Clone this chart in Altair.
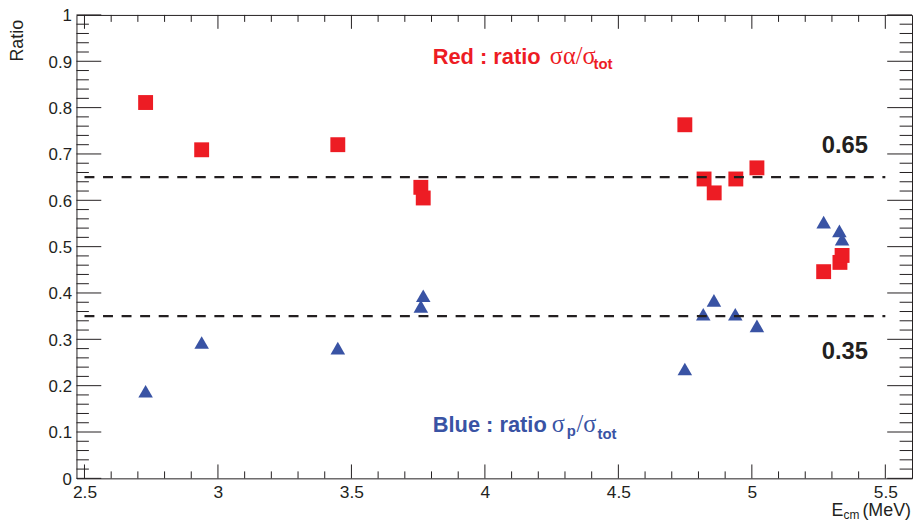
import altair as alt
import pandas as pd

# ---- data ----
red_e = [2.729, 2.939, 3.449, 3.760, 3.769, 4.749, 4.821, 4.859, 4.940, 5.019, 5.269, 5.330, 5.338]
red_ratio = [0.811, 0.709, 0.720, 0.628, 0.605, 0.763, 0.646, 0.616, 0.646, 0.670, 0.446, 0.466, 0.481]
blue_e = [2.729, 2.939, 3.449, 3.769, 3.760, 4.749, 4.818, 4.858, 4.938, 5.019, 5.269, 5.328, 5.338]
blue_ratio = [0.188, 0.293, 0.281, 0.394, 0.371, 0.236, 0.354, 0.384, 0.354, 0.329, 0.553, 0.534, 0.516]

levels = [0.65, 0.35]
level_from = [2.5, 2.5]
level_to = [5.5, 5.5]
level_labels = ["0.65", "0.35"]

x_major = [2.5, 3.0, 3.5, 4.0, 4.5, 5.0, 5.5]
x_minor = [round(2.5 + 0.1 * i, 2) for i in range(31) if i % 5 != 0]
y_major = [round(0.1 * i, 2) for i in range(11)]
y_minor = [round(0.02 * i, 2) for i in range(51) if i % 5 != 0]

red_text = ["Red : ratio ", "σα/σ", "tot"]
blue_text = ["Blue : ratio ", "σ", "p", "/σ", "tot"]
x_title = ["E", "cm", "(MeV)"]
y_title = "Ratio"

RED = "#ED1C24"
BLUE = "#3953A4"
INK = "#231F20"
W, H = 842, 467
FONT = "Liberation Sans"
SERIF = "Liberation Serif"

xs = alt.Scale(domain=[2.47, 5.6], nice=False, zero=False)
ys = alt.Scale(domain=[0, 1], nice=False, zero=False)

red_df = pd.DataFrame({"E": red_e, "R": red_ratio})
blue_df = pd.DataFrame({"E": blue_e, "R": blue_ratio})
lev_df = pd.DataFrame({"y": levels, "x1": level_from, "x2": level_to})

x_axis = alt.Axis(values=x_major, format="~g", ticks=False, domain=False, grid=False,
                  labelFont=FONT, labelFontSize=17.5, labelColor=INK, labelPadding=5,
                  labelFlush=False, labelOverlap=False, title=None)
y_axis = alt.Axis(values=y_major, format="~g", ticks=False, domain=False, grid=False,
                  labelFont=FONT, labelFontSize=17, labelColor=INK, labelPadding=5,
                  labelOffset=1, labelFlush=False, labelOverlap=False, title=None)


def X(field):
    return alt.X(field, scale=xs, axis=x_axis)


def Y(field):
    return alt.Y(field, scale=ys, axis=y_axis)


red_pts = alt.Chart(red_df).mark_point(shape="square", filled=True, opacity=1, size=225,
                                       color=RED, strokeWidth=0).encode(x=X("E:Q"), y=Y("R:Q"))
blue_pts = alt.Chart(blue_df).mark_point(shape="triangle-up", filled=True, opacity=1, size=215,
                                         color=BLUE, strokeWidth=0).encode(x=X("E:Q"), y=Y("R:Q"))

dashes = alt.Chart(lev_df).mark_rule(color=INK, strokeWidth=2.2, strokeDash=[10, 8.7]).encode(
    x=X("x1:Q"), x2="x2:Q", y=Y("y:Q"))


def xticks(vals, length):
    df = pd.DataFrame({"v": vals})
    bottom = alt.Chart(df).mark_rule(color=INK, strokeWidth=1).encode(
        x=X("v:Q"), y=alt.value(H), y2=alt.value(H - length))
    top = alt.Chart(df).mark_rule(color=INK, strokeWidth=1).encode(
        x=X("v:Q"), y=alt.value(0), y2=alt.value(length))
    return [bottom, top]


def yticks(vals, length):
    df = pd.DataFrame({"v": vals})
    left = alt.Chart(df).mark_rule(color=INK, strokeWidth=1).encode(
        y=Y("v:Q"), x=alt.value(0), x2=alt.value(length))
    right = alt.Chart(df).mark_rule(color=INK, strokeWidth=1).encode(
        y=Y("v:Q"), x=alt.value(W), x2=alt.value(W - length))
    return [left, right]


def txt(s, x, y, size, color, weight="normal", font=FONT, align="left", baseline="alphabetic", angle=0):
    return alt.Chart(pd.DataFrame({"t": [s]})).mark_text(
        align=align, baseline=baseline, fontSize=size, font=font, fontWeight=weight,
        color=color, angle=angle).encode(text="t:N", x=alt.value(x), y=alt.value(y))


texts = [
    txt(red_text[0], 359, 49, 22, RED, weight="bold"),
    txt(red_text[1], 477, 49, 24.5, RED, font=SERIF),
    txt(red_text[2], 521, 54, 15, RED, weight="bold"),
    txt(blue_text[0], 359, 420, 22, BLUE, weight="bold"),
    txt(blue_text[1], 479, 420, 24.5, BLUE, font=SERIF),
    txt(blue_text[2], 494, 424.5, 15, BLUE, weight="bold"),
    txt(blue_text[3], 504, 420, 24.5, BLUE, font=SERIF),
    txt(blue_text[4], 525, 427.5, 15, BLUE, weight="bold"),
    txt(level_labels[0], 751, 139, 24, INK, weight="bold"),
    txt(level_labels[1], 751, 347, 24, INK, weight="bold"),
    txt(x_title[0], 773, 504.5, 18, INK, align="right"),
    txt(x_title[1], 789, 507.5, 12, INK, align="right"),
    txt(x_title[2], 841, 504.5, 18, INK, align="right"),
    txt(y_title, -59, 5, 18, INK, align="right", baseline="middle", angle=270),
]

layers = [red_pts, blue_pts]
layers += xticks(x_major, 14) + xticks(x_minor, 7)
layers += yticks(y_major, 25) + yticks(y_minor, 12.5)
layers += [dashes] + texts

chart = alt.layer(*layers).properties(
    width=W, height=H,
    padding={"left": 69, "top": 5, "right": 2, "bottom": 42},
    autosize=alt.AutoSizeParams(type="none"),
    background="white",
).configure_view(stroke=INK, strokeWidth=1)

chart.save("out.html", embed_options={"renderer": "svg", "actions": False})
